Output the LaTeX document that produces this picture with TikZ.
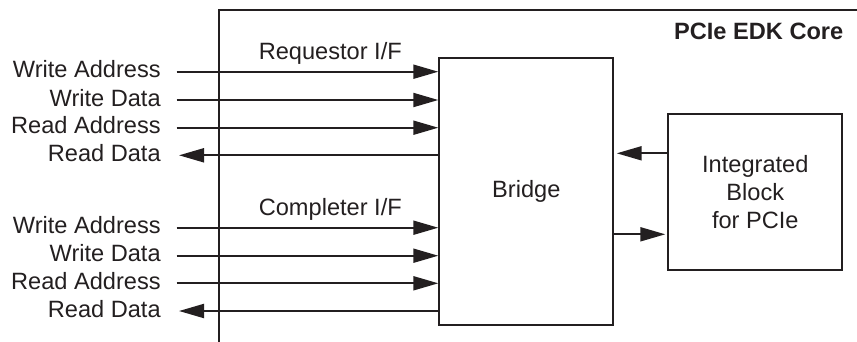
\documentclass[tikz,border=0pt]{standalone}
\usepackage{fontspec}
\setmainfont{Liberation Sans}
\usetikzlibrary{arrows.meta}
\definecolor{ink}{HTML}{231F20}
\begin{document}
\begin{tikzpicture}[x=1pt,y=-1pt, line width=2pt, color=ink,
  txt/.style={font=\fontsize{23.6}{28.3}\selectfont, inner sep=0pt, text=ink},
  lbl/.style={txt, anchor=base east},
  sig/.style={draw=ink, line width=2pt, -{Triangle[length=25pt,width=14pt]}},
  blk/.style={draw=ink, line width=2pt, inner sep=0pt, txt, align=center},
]
\useasboundingbox (0,0) rectangle (857,341);
% core outline (only top and left edges visible)
\draw[line width=2pt] (219,345) -- (219,10) -- (862,10);
\node[txt, font=\fontsize{23.6}{28.3}\selectfont\bfseries, anchor=base east] (core) at (844.3,39.3) {PCIe EDK Core};

\node[blk, minimum width=174pt, minimum height=266.7pt] (bridge) at (526.3,191.7) {Bridge};
\node[blk, minimum width=174pt, minimum height=155.7pt] (ib) at (755.3,192.2) {Integrated\\Block\\for PCIe};

\node[txt, anchor=base] (req) at (330.3,59.3) {Requestor I/F};
\node[txt, anchor=base] (cmp) at (330.3,215) {Completer I/F};

% requestor signals
\node[lbl] (l1) at (161.7,77.7) {Write Address};
\node[lbl] (l2) at (161.7,106) {Write Data};
\node[lbl] (l3) at (161.7,133.7) {Read Address};
\node[lbl] (l4) at (161.7,161.3) {Read Data};
\coordinate (s1) at (176.7,71.7);
\coordinate (s2) at (176.7,100);
\coordinate (s3) at (176.7,127.7);
\coordinate (s4) at (179,155.3);
\draw[sig] (s1) -- (s1 -| bridge.west);
\draw[sig] (s2) -- (s2 -| bridge.west);
\draw[sig] (s3) -- (s3 -| bridge.west);
\draw[sig] (s4 -| bridge.west) -- (s4);

% completer signals
\node[lbl] (m1) at (161.7,233.7) {Write Address};
\node[lbl] (m2) at (161.7,261.7) {Write Data};
\node[lbl] (m3) at (161.7,289.3) {Read Address};
\node[lbl] (m4) at (161.7,317) {Read Data};
\coordinate (c1) at (176.7,227.7);
\coordinate (c2) at (176.7,255.7);
\coordinate (c3) at (176.7,283.3);
\coordinate (c4) at (179,311);
\draw[sig] (c1) -- (c1 -| bridge.west);
\draw[sig] (c2) -- (c2 -| bridge.west);
\draw[sig] (c3) -- (c3 -| bridge.west);
\draw[sig] (c4 -| bridge.west) -- (c4);

% bridge <-> integrated block
\coordinate (t1) at (616.7,153.3);
\coordinate (t2) at (613.3,234.3);
\draw[sig] (ib.west |- t1) -- (t1);
\draw[sig] (bridge.east |- t2) -- ([xshift=-2pt]ib.west |- t2);
\end{tikzpicture}
\end{document}
